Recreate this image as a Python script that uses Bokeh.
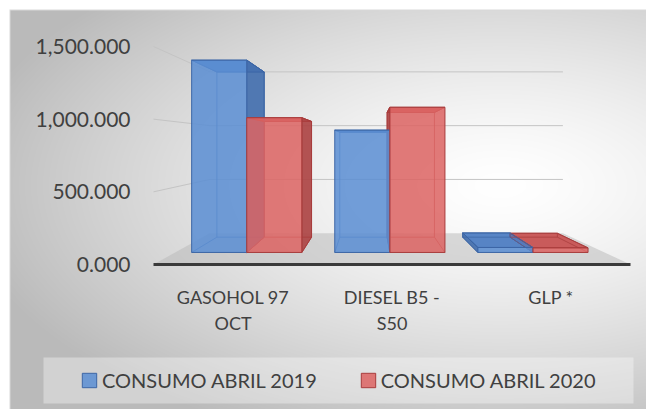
import numpy as np
from bokeh.plotting import figure
from bokeh.models import (Range1d, FixedTicker, NumeralTickFormatter, Legend,
                          LegendItem, BoxAnnotation)
from bokeh.embed import file_html
from bokeh.resources import INLINE

# ---------------- data ----------------
categories = ["GASOHOL 97 OCT", "DIESEL B5 - S50", "GLP *"]
tick_labels = ["GASOHOL 97\nOCT", "DIESEL B5 -\nS50", "GLP *"]
series_names = ["CONSUMO ABRIL 2019", "CONSUMO ABRIL 2020"]
consumo_2019 = [1470, 935, 38]
consumo_2020 = [1030, 1110, 35]
y_ticks = [0, 500, 1000, 1500]

# ---------------- layout / style ----------------
W, H = 646, 409
FRONT_L, FRONT_R = 153, 630          # front edge of the floor (px)
Y0 = 264                              # value 0 on the front plane (px from top)
K = 218 / 1500                        # px per unit on the front plane
UX = (FRONT_R - FRONT_L) / len(categories)
VP_X, VP_Y = 370, 143.6               # vanishing point (px)
S_BAR_F, S_BAR_B, S_BACK = 0.90, 0.773, 0.74
BW = 0.385
FONT = "Lato"
TXT = "#404040"

def px_to_u(px):
    return (px - FRONT_L) / UX

def py_to_v(py):
    return (Y0 - py) / K

U_V = px_to_u(VP_X)
V_V = py_to_v(VP_Y)

def proj(u, v, s):
    return U_V + s * (u - U_V), V_V + s * (v - V_V)

def poly(pts):
    xs, ys = zip(*[proj(*p) for p in pts])
    return list(xs), list(ys)

x_range = Range1d(px_to_u(0), px_to_u(W))
y_range = Range1d(py_to_v(H), py_to_v(0))

p = figure(width=W, height=H, x_range=x_range, y_range=y_range,
           output_backend="svg", toolbar_location=None, min_border=0,
           min_border_left=0, min_border_right=0, min_border_top=0, min_border_bottom=0)
p.outline_line_color = None
p.xgrid.visible = False
p.ygrid.visible = False
p.border_fill_color = "#d0d0d0"

# ---------------- background gradient ----------------
cols = np.arange(W) + 0.5
rows = np.arange(H)
pix_y = (H - 1 - rows) + 0.5
gx, gy = np.meshgrid(cols, pix_y)
d = np.sqrt(((gx - 500) / 470) ** 2 + ((gy - 185) / 235) ** 2)
d = np.clip(d, 0, 1.15)
c = np.clip(255 - 56 * d ** 1.4, 0, 255)
c = np.where((gx < 9) | (gy < 9), 255, c)
c = np.where(((gx >= 9) & (gx < 10) & (gy >= 9)) | ((gy >= 9) & (gy < 10) & (gx >= 9)), 217, c)
c = c.astype(np.uint8)
img = np.empty((H, W), dtype=np.uint32)
view = img.view(dtype=np.uint8).reshape((H, W, 4))
view[..., 0] = c
view[..., 1] = c
view[..., 2] = c
view[..., 3] = 255
p.image_rgba(image=[img], x=x_range.start, y=y_range.start,
             dw=x_range.end - x_range.start, dh=y_range.end - y_range.start)

n = len(categories)

# ---------------- walls gridlines ----------------
gxs, gys = [], []
for t in y_ticks[1:]:
    a = proj(0, t, 1.0); b = proj(0, t, S_BACK); e = proj(n, t, S_BACK)
    gxs.append([a[0], b[0]]); gys.append([a[1], b[1]])
    gxs.append([b[0], e[0]]); gys.append([b[1], e[1]])
p.multi_line(gxs, gys, line_color="#c4c4c4", line_width=1)

# ---------------- floor ----------------
fx, fy = poly([(0, 0, 1.0), (n, 0, 1.0), (n, 0, S_BACK), (0, 0, S_BACK)])
p.patch(fx, fy, fill_color="#b8b8b8", fill_alpha=0.5, line_color=None)

# ---------------- 3D bars ----------------
styles = [
    dict(front="#5b8ed3", top="#4d7ec4", side="#4570ae", line="#3c66a6"),
    dict(front="#dc6463", top="#c85252", side="#ad4646", line="#a83c3c"),
]
series = [consumo_2019, consumo_2020]

boxes = []
for i in range(n):
    for j, vals in enumerate(series):
        u0 = i + 0.5 - BW + j * BW
        u1 = u0 + BW
        boxes.append((u0, u1, vals[i], j))
boxes.sort(key=lambda b: -abs((b[0] + b[1]) / 2 - U_V))

pxs, pys, pfill, pline = [], [], [], []
exs, eys, ecol = [], [], []
for u0, u1, v, j in boxes:
    st = styles[j]
    # hidden back edges, seen through the translucent bars
    for a, b in [((u0, 0), (u1, 0)), ((u0, v), (u1, v)), ((u0, 0), (u0, v)), ((u1, 0), (u1, v))]:
        p0 = proj(a[0], a[1], S_BAR_B); p1 = proj(b[0], b[1], S_BAR_B)
        exs.append([p0[0], p1[0]]); eys.append([p0[1], p1[1]]); ecol.append(st["line"])
    for a in [(u0, 0), (u1, 0), (u0, v), (u1, v)]:
        p0 = proj(a[0], a[1], S_BAR_F); p1 = proj(a[0], a[1], S_BAR_B)
        exs.append([p0[0], p1[0]]); eys.append([p0[1], p1[1]]); ecol.append(st["line"])
    x_, y_ = poly([(u0, v, S_BAR_F), (u1, v, S_BAR_F), (u1, v, S_BAR_B), (u0, v, S_BAR_B)])
    pxs.append(x_); pys.append(y_); pfill.append(st["top"]); pline.append(st["line"])
    if u1 < U_V:
        x_, y_ = poly([(u1, 0, S_BAR_F), (u1, v, S_BAR_F), (u1, v, S_BAR_B), (u1, 0, S_BAR_B)])
        pxs.append(x_); pys.append(y_); pfill.append(st["side"]); pline.append(st["line"])
    elif u0 > U_V:
        x_, y_ = poly([(u0, 0, S_BAR_F), (u0, v, S_BAR_F), (u0, v, S_BAR_B), (u0, 0, S_BAR_B)])
        pxs.append(x_); pys.append(y_); pfill.append(st["side"]); pline.append(st["line"])
p.patches(pxs, pys, fill_color=pfill, line_color=pline, line_width=1, fill_alpha=0.93)
p.multi_line(exs, eys, line_color=ecol, line_width=1, line_alpha=0.75)

fronts = []
for j, vals in enumerate(series):
    lefts, rights, bottoms, tops = [], [], [], []
    for i in range(n):
        u0 = i + 0.5 - BW + j * BW
        u1 = u0 + BW
        l, b = proj(u0, 0, S_BAR_F)
        r, t = proj(u1, vals[i], S_BAR_F)
        lefts.append(l); rights.append(r); bottoms.append(b); tops.append(t)
    st = styles[j]
    fronts.append(p.quad(left=lefts, right=rights, bottom=bottoms, top=tops,
                         fill_color=st["front"], fill_alpha=0.86,
                         line_color=st["line"], line_width=1))

ex0, ey0 = proj(0, 0, 1.0)
ex1, ey1 = proj(n, 0, 1.0)
p.line([ex0, ex1], [ey0, ey1], line_color="#3a3a3a", line_width=3)

# ---------------- axes ----------------
yax = p.yaxis[0]
yax.ticker = FixedTicker(ticks=y_ticks)
yax.formatter = NumeralTickFormatter(format="0,0.000")
yax.fixed_location = px_to_u(142)
yax.axis_line_color = None
yax.major_tick_line_color = None
yax.minor_tick_line_color = None
yax.major_label_standoff = 6
yax.major_label_text_font = FONT
yax.major_label_text_font_size = "21px"
yax.major_label_text_color = TXT

xax = p.xaxis[0]
centers = [i + 0.5 for i in range(n)]
xax.ticker = FixedTicker(ticks=centers)
xax.major_label_overrides = {c_: lab for c_, lab in zip(centers, tick_labels)}
xax.fixed_location = 0
xax.axis_line_color = None
xax.major_tick_line_color = None
xax.minor_tick_line_color = None
xax.major_label_standoff = 15
xax.major_label_text_font = FONT
xax.major_label_text_font_size = "18px"
xax.major_label_text_color = TXT

# ---------------- legend ----------------
box = BoxAnnotation(left=px_to_u(43), right=px_to_u(633), top=py_to_v(357), bottom=py_to_v(403),
                    fill_color="#ffffff", fill_alpha=0.35, line_color=None)
p.add_layout(box)
legend = Legend(items=[LegendItem(label=series_names[k], renderers=[fronts[k]]) for k in range(2)],
                orientation="horizontal", location=(80, 17), padding=12, spacing=42,
                glyph_width=18, glyph_height=18, label_standoff=4,
                label_text_font=FONT, label_text_font_size="20px", label_text_color=TXT,
                background_fill_alpha=0, border_line_color=None)
p.add_layout(legend)

open("out.html", "w").write(file_html(p, INLINE))
